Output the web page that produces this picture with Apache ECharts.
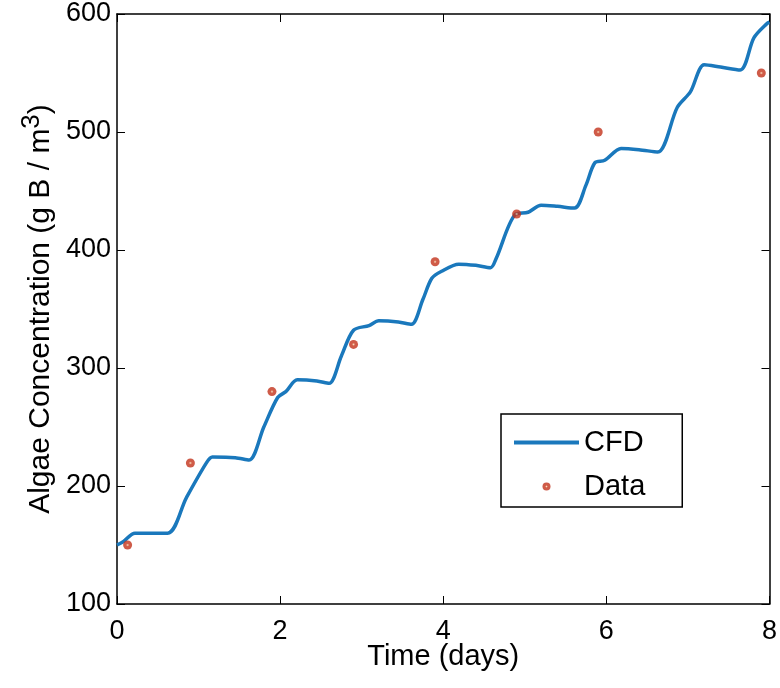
<!DOCTYPE html>
<html>
<head>
<meta charset="utf-8">
<script src="https://cdn.jsdelivr.net/npm/echarts@6/dist/echarts.min.js"></script>
<style>
  html, body { margin: 0; padding: 0; background: #fff; }
  #chart { width: 780px; height: 688px; }
</style>
</head>
<body>
<div id="chart"></div>
<script>
// CFD curve (days, g B / m^3)
const cfdDays = [0, 0.08, 0.22, 0.62, 0.85, 1.1, 1.17, 1.45, 1.62, 1.8, 1.97, 2.07, 2.21, 2.45, 2.6, 2.75, 2.9, 3.09, 3.21, 3.45, 3.61, 3.75, 3.86, 3.98, 4.19, 4.4, 4.58, 4.65, 4.88, 5.04, 5.2, 5.4, 5.61, 5.75, 5.86, 5.98, 6.18, 6.4, 6.63, 6.87, 7.03, 7.2, 7.4, 7.64, 7.81, 7.97, 8]
const cfdConc = [150, 153, 160, 160, 190, 220, 224.5, 224, 222, 250, 275, 280, 290, 289, 287, 310, 332, 336, 340, 339, 337, 358, 376, 382, 388, 387, 385, 393, 430, 432, 438, 437, 435.5, 455, 474, 476, 486, 485, 483, 521, 534, 557, 555, 552.5, 580, 592, 593]

// measured data
const dataDays = [0.13, 0.9, 1.9, 2.9, 3.9, 4.9, 5.9, 7.9]
const dataConc = [150, 219.5, 280, 320, 390, 430.5, 500, 550]

const xTicks = [0, 2, 4, 6, 8]
const yTicks = [100, 200, 300, 400, 500, 600]

const font = 'Liberation Sans, Arial, sans-serif'

const myChart = echarts.init(document.getElementById('chart'))

const axisBase = {
    axisLine: { show: true, onZero: false, lineStyle: { color: '#000', width: 1.5 } },
    axisTick: { show: true, inside: true, length: 8, lineStyle: { color: '#000' } },
    splitLine: { show: false },
}

// red marker with a light centre, like the matlab 'o'
const markerColor = {
    type: 'radial', x: 0.5, y: 0.5, r: 0.5,
    colorStops: [
        { offset: 0, color: '#f6d8b0' },
        { offset: 0.35, color: '#c6341a' },
        { offset: 1, color: '#c0301a' },
    ],
}

const option = {
    animation: false,
    backgroundColor: '#fff',
    grid: { left: 117, right: 8, top: 14, bottom: 84 },
    xAxis: [
        {
            ...axisBase,
            type: 'value',
            min: xTicks[0],
            max: xTicks[xTicks.length - 1],
            interval: 2,
            name: 'Time (days)',
            nameLocation: 'middle',
            nameGap: 38,
            nameMoveOverlap: false,
            nameTextStyle: { fontFamily: font, fontSize: 29, color: '#000' },
            axisLabel: { fontFamily: font, fontSize: 27, color: '#000', margin: 14 },
        },
        {
            ...axisBase,
            type: 'value',
            position: 'top',
            min: 0, max: 8, interval: 2,
            axisLabel: { show: false },
        },
    ],
    yAxis: [
        {
            ...axisBase,
            type: 'value',
            min: yTicks[0],
            max: yTicks[yTicks.length - 1],
            interval: 100,
            name: 'Algae Concentration (g B / m{sup|3})',
            nameLocation: 'middle',
            nameGap: 54,
            nameMoveOverlap: false,
            nameTextStyle: {
                fontFamily: font, fontSize: 30, color: '#000',
                rich: { sup: { fontFamily: font, fontSize: 26, color: '#000', padding: [0, 0, 18, 0] } }
            },
            axisLabel: { fontFamily: font, fontSize: 27, color: '#000', margin: 6 },
        },
        {
            ...axisBase,
            type: 'value',
            position: 'right',
            min: 100, max: 600, interval: 100,
            axisLabel: { show: false },
        },
    ],
    legend: {
        orient: 'vertical',
        left: 501,
        top: 414,
        padding: [14, 37, 6, 11],
        itemGap: 15,
        itemWidth: 65,
        itemHeight: 8,
        borderColor: '#000',
        borderWidth: 1.5,
        backgroundColor: '#fff',
        textStyle: { fontFamily: font, fontSize: 29, color: '#000', lineHeight: 29 },
        data: [
            { name: 'CFD', itemStyle: { color: 'rgba(0,0,0,0)', borderWidth: 0 }, lineStyle: { width: 4 } },
            { name: 'Data' },
        ],
    },
    series: [
        {
            name: 'CFD',
            type: 'line',
            data: cfdDays.map((d, i) => [d, cfdConc[i]]),
            symbol: 'none',
            smooth: 0.3,
            lineStyle: { color: '#1a78bc', width: 3.5 },
            itemStyle: { color: '#1a78bc' },
        },
        {
            name: 'Data',
            type: 'scatter',
            data: dataDays.map((d, i) => [d, dataConc[i]]),
            symbol: 'circle',
            symbolSize: 9,
            itemStyle: { color: markerColor },
            z: 5,
        },
    ],
}

option && myChart.setOption(option)
</script>
</body>
</html>
